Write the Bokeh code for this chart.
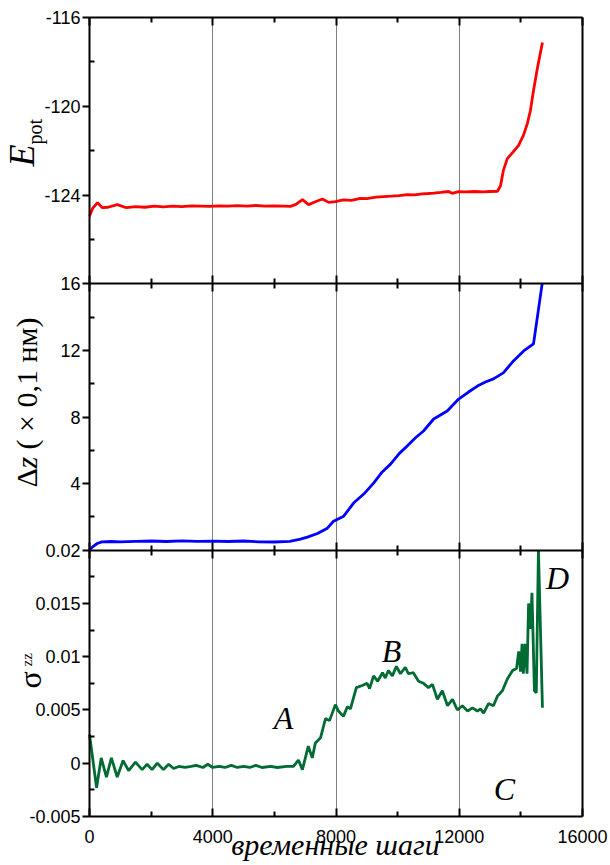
import math
from bokeh.plotting import figure
from bokeh.models import Range1d, LinearAxis, FixedTicker, Label, Grid
from bokeh.embed import file_html
from bokeh.resources import INLINE

# ---------------- data ----------------
X_RANGE = (0, 16000)
X_MAJOR = [0, 4000, 8000, 12000, 16000]
X_MINOR = [2000, 6000, 10000, 14000]
X_GRID = [4000, 8000, 12000]
X_LABELS = ["0", "4000", "8000", "12000", "16000"]

E_RANGE = (-128, -116)
E_TICKS = [-124, -120, -116]
E_MINOR = [-126, -122, -118]
E_LABELS = ["-124", "-120", "-116"]

D_RANGE = (0, 16)
D_TICKS = [4, 8, 12, 16]
D_MINOR = [2, 6, 10, 14]
D_LABELS = ["4", "8", "12", "16"]

S_RANGE = (-0.005, 0.02)
S_TICKS = [-0.005, 0.0, 0.005, 0.01, 0.015, 0.02]
S_MINOR = [-0.0025, 0.0025, 0.0075, 0.0125, 0.0175]
S_LABELS = ["-0.005", "0", "0.005", "0.01", "0.015", "0.02"]

# potential energy
X_E = [0, 100, 260, 420, 600, 900, 1200, 1500, 1800, 2100, 2400, 2700, 3000, 3300,
       3600, 3900, 4200, 4500, 4800, 5100, 5400, 5700, 6000, 6300, 6520, 6700, 6910,
       7110, 7330, 7560, 7760, 7980, 8240, 8500, 8790, 9000, 9300, 9540, 9800, 10050,
       10310, 10550, 10800, 11000, 11170, 11400, 11650, 11770, 11980, 12200, 12500,
       12790, 13000, 13240, 13340, 13430, 13560, 13730, 13920, 14080, 14210, 14310,
       14410, 14540, 14700]
Y_E = [-124.95, -124.6, -124.34, -124.57, -124.55, -124.43, -124.57, -124.52, -124.55,
       -124.5, -124.53, -124.5, -124.52, -124.49, -124.5, -124.51, -124.49, -124.5,
       -124.48, -124.5, -124.47, -124.5, -124.49, -124.5, -124.51, -124.42, -124.21,
       -124.43, -124.30, -124.18, -124.33, -124.30, -124.22, -124.24, -124.15, -124.16,
       -124.09, -124.07, -124.05, -124.03, -123.98, -123.99, -123.95, -123.93, -123.91,
       -123.88, -123.84, -123.92, -123.85, -123.86, -123.84, -123.86, -123.84, -123.83,
       -123.58, -122.9, -122.36, -122.09, -121.77, -121.32, -120.78, -120.19, -119.29,
       -118.25, -117.13]

# displacement
X_D = [0, 100, 250, 400, 700, 1000, 1500, 2000, 2500, 3000, 3500, 4000, 4500, 5000,
       5500, 6000, 6500, 6847, 7070, 7400, 7720, 7920, 8250, 8570, 8900, 9220, 9500,
       9770, 10050, 10310, 10580, 10840, 11170, 11610, 11980, 12300, 12590, 12850,
       13110, 13430, 13760, 14090, 14410, 14690]
Y_D = [0.0, 0.2, 0.4, 0.5, 0.52, 0.5, 0.53, 0.55, 0.52, 0.56, 0.53, 0.54, 0.52, 0.55,
       0.5, 0.49, 0.53, 0.66, 0.78, 1.0, 1.32, 1.74, 2.04, 2.83, 3.37, 4.03, 4.7,
       5.17, 5.8, 6.26, 6.75, 7.16, 7.88, 8.36, 9.08, 9.5, 9.86, 10.1, 10.29, 10.65,
       11.37, 11.97, 12.39, 16.0]

# stress
X_S = [0, 230, 380, 550, 710, 900, 1090, 1270, 1490, 1710, 1870, 2030, 2200, 2400,
       2570, 2730, 2900, 3100, 3300, 3460, 3680, 3840, 4000, 4200, 4400, 4600, 4800,
       5000, 5200, 5400, 5600, 5873, 6100, 6400, 6620, 6780, 6910, 7100, 7230, 7330,
       7500, 7660, 7790, 7980, 8080, 8240, 8370, 8470, 8660, 8850, 9010, 9090, 9220,
       9350, 9510, 9600, 9700, 9830, 9960, 10090, 10250, 10350, 10510, 10680, 10840,
       11000, 11130, 11290, 11450, 11620, 11780, 11940, 12100, 12270, 12430, 12590,
       12690, 12790, 12950, 13110, 13240, 13400, 13560, 13730, 13860, 13930, 13990,
       14040, 14080, 14140, 14200, 14250, 14310, 14360, 14440, 14500, 14570, 14700]
Y_S = [0.0027, -0.0023, 0.0005, -0.0013, 0.0005, -0.0013, 0.00025, -0.0007, 0.0001,
       -0.0006, -0.0001, -0.0006, 0.0, -0.0006, -0.0001, -0.0005, -0.0003, -0.0004,
       -0.0003, -0.0002, -0.0004, -0.0001, -0.0004, -0.0003, -0.0004, -0.0002, -0.0004,
       -0.0003, -0.0004, -0.0002, -0.0004, -0.0003, -0.0004, -0.0003, -0.0003, 0.0003,
       -0.0006, 0.0016, 0.0005, 0.0019, 0.0024, 0.0042, 0.0040, 0.0055, 0.0049, 0.0044,
       0.0053, 0.0051, 0.0071, 0.0073, 0.0075, 0.0070, 0.0082, 0.0077, 0.0085, 0.0080,
       0.0087, 0.0082, 0.0091, 0.0084, 0.0090, 0.0084, 0.0085, 0.0077, 0.0075, 0.0071,
       0.0074, 0.0060, 0.0068, 0.0054, 0.0060, 0.0050, 0.0054, 0.0049, 0.0052, 0.0049,
       0.0051, 0.0047, 0.0056, 0.0054, 0.0063, 0.0068, 0.0079, 0.0087, 0.0089, 0.0105,
       0.0086, 0.0112, 0.0084, 0.0112, 0.0084, 0.0150, 0.0126, 0.0160, 0.0068, 0.0066,
       0.0200, 0.0052]

LETTERS = ["A", "B", "C", "D"]
LETTER_X = [6300, 9800, 13470, 15190]
LETTER_Y = [0.0042, 0.0105, -0.0024, 0.0174]

# ---------------- layout geometry (pixels) ----------------
PLOT_W, PLOT_H = 610, 865
FRAME_L, FRAME_R, FRAME_T, FRAME_B = 89, 582, 17, 816
PANEL_H = (FRAME_B - FRAME_T) / 3.0
TICK_FONT = "Liberation Sans"
SERIF = "Liberation Serif"

x_ppu = (FRAME_R - FRAME_L) / (X_RANGE[1] - X_RANGE[0])
x_range = Range1d(X_RANGE[0] - FRAME_L / x_ppu, X_RANGE[1] + (PLOT_W - FRAME_R) / x_ppu)


def panel_range(lo, hi, bottom_px):
    """Range covering the whole canvas height so that [lo, hi] occupies one panel
    whose lower edge is bottom_px above the canvas bottom."""
    ppu = PANEL_H / (hi - lo)
    return Range1d(lo - bottom_px / ppu, lo + (PLOT_H - bottom_px) / ppu)


bottom3 = PLOT_H - FRAME_B
s_rng = panel_range(*S_RANGE, bottom3)
d_rng = panel_range(*D_RANGE, bottom3 + PANEL_H)
e_rng = panel_range(*E_RANGE, bottom3 + 2 * PANEL_H)

p = figure(width=PLOT_W, height=PLOT_H, output_backend="svg", toolbar_location=None,
           x_range=x_range, y_range=s_rng, x_axis_type=None, y_axis_type=None,
           min_border=0, min_border_left=0, min_border_right=0, min_border_top=0,
           min_border_bottom=0)
p.extra_y_ranges = {"dz": d_rng, "e": e_rng}
p.background_fill_color = "white"
p.border_fill_color = "white"
p.outline_line_color = None

grid = Grid(dimension=0, ticker=FixedTicker(ticks=X_GRID),
            grid_line_color="#808080", grid_line_width=1)
try:
    grid.cross_bounds = (S_RANGE[0], s_rng.end - (FRAME_T / PANEL_H) * (S_RANGE[1] - S_RANGE[0]))
    p.add_layout(grid)
except Exception:
    p.segment(x0=X_GRID, x1=X_GRID, y0=[S_RANGE[0]] * len(X_GRID),
              y1=[E_RANGE[1]] * len(X_GRID), y_range_name="dz",
              line_color="#808080", line_width=1)


def y_axis(rng_name, rng, ticks, minor, labels):
    ax = LinearAxis(y_range_name=rng_name, fixed_location=X_RANGE[0], bounds=rng)
    ax.ticker = FixedTicker(ticks=ticks, minor_ticks=minor)
    ax.major_label_overrides = {t: l for t, l in zip(ticks, labels)}
    ax.axis_line_width = 2
    ax.major_tick_line_width = 2
    ax.minor_tick_line_width = 2
    ax.major_tick_out = 7
    ax.major_tick_in = 0
    ax.minor_tick_out = 0
    ax.minor_tick_in = 5
    ax.major_label_standoff = 2
    ax.major_label_text_font = TICK_FONT
    ax.major_label_text_font_size = "18px"
    ax.major_label_text_color = "black"
    p.add_layout(ax, "left")


def x_axis(rng_name, loc, side, labels_visible, tick_out):
    ax = LinearAxis(y_range_name=rng_name, fixed_location=loc, bounds=X_RANGE)
    ax.ticker = FixedTicker(ticks=X_MAJOR, minor_ticks=X_MINOR)
    ax.axis_line_width = 2
    ax.major_tick_line_width = 2
    ax.minor_tick_line_width = 2
    ax.major_tick_in = 8
    ax.major_tick_out = tick_out
    ax.minor_tick_in = 5
    ax.minor_tick_out = 5 if tick_out else 0
    if labels_visible:
        ax.major_label_overrides = {t: l for t, l in zip(X_MAJOR, X_LABELS)}
        ax.major_label_standoff = 13
        ax.major_label_text_font = TICK_FONT
        ax.major_label_text_font_size = "18px"
        ax.major_label_text_color = "black"
    else:
        ax.major_label_text_color = None
    p.add_layout(ax, side)


y_axis("default", S_RANGE, S_TICKS, S_MINOR, S_LABELS)
y_axis("dz", D_RANGE, D_TICKS, D_MINOR, D_LABELS)
y_axis("e", E_RANGE, E_TICKS, E_MINOR, E_LABELS)

x_axis("default", S_RANGE[0], "below", True, 0)
x_axis("dz", D_RANGE[0], "below", False, 8)
x_axis("e", E_RANGE[0], "below", False, 8)
x_axis("e", E_RANGE[1], "above", False, 0)

right = LinearAxis(y_range_name="dz", fixed_location=X_RANGE[1],
                   bounds=(d_rng.start + bottom3 / PANEL_H * (D_RANGE[1] - D_RANGE[0]),
                           d_rng.end - FRAME_T / PANEL_H * (D_RANGE[1] - D_RANGE[0])),
                   ticker=FixedTicker(ticks=[]), axis_line_width=2,
                   major_label_text_color=None)
p.add_layout(right, "right")

# data lines
p.line(X_E, Y_E, y_range_name="e", line_color="#ff0000", line_width=2.8)
p.line(X_D, Y_D, y_range_name="dz", line_color="#0000ff", line_width=2.8)
p.line(X_S, Y_S, line_color="#006b33", line_width=2.8)

for t, x, y in zip(LETTERS, LETTER_X, LETTER_Y):
    p.add_layout(Label(x=x, y=y, text=t, text_font=SERIF, text_font_style="italic",
                       text_font_size="32px", text_align="center",
                       text_baseline="middle", text_color="black"))


# axis titles (screen units: canvas pixels from the left / from the bottom)
def title(text, x, y, size, style="normal", angle=math.pi / 2, align="left"):
    p.add_layout(Label(x=x, y=y, x_units="screen", y_units="screen", text=text,
                       angle=angle, text_font=SERIF, text_font_style=style,
                       text_font_size=size, text_align=align,
                       text_baseline="alphabetic", text_color="black"))


title("E", 21, 699, "36px", "italic")
title("pot", 34, 721, "20px")
title("\u0394", 26, 378, "30px")
title("z", 26, 397, "30px", "italic")
title("( \u00d7 0,1 \u043d\u043c)", 26, 416, "30px")
title("\u03c3", 29, 177, "32px")
title("zz", 26, 199, "15px")
title("\u0432\u0440\u0435\u043c\u0435\u043d\u043d\u044b\u0435 \u0448\u0430\u0433\u0438",
      335, 21, "30px", "italic", 0, "center")

open("out.html", "w").write(file_html(p, INLINE))
